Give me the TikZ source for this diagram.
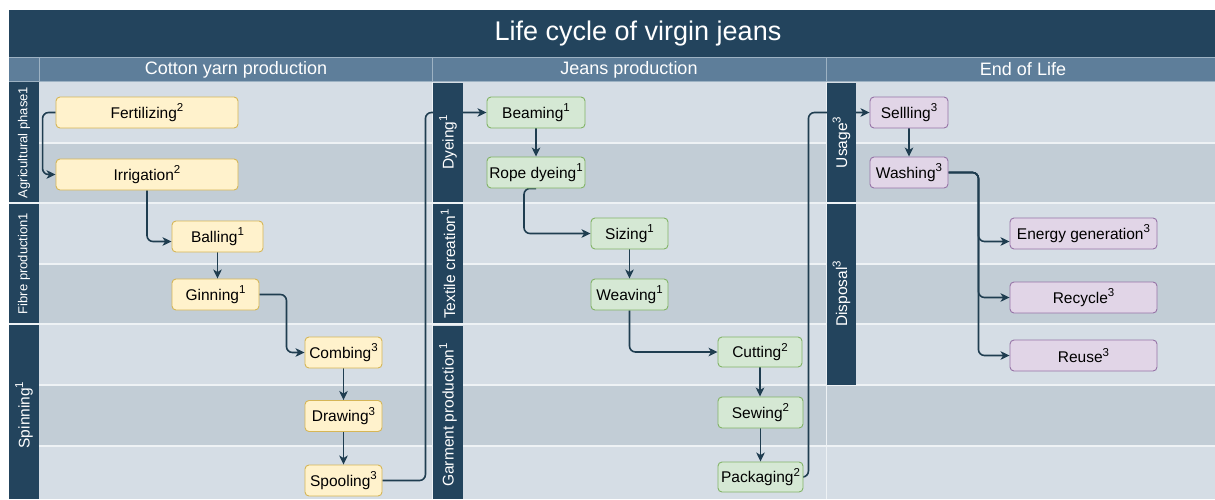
\documentclass[tikz,border=0pt]{standalone}
\usepackage{fontspec}
\setmainfont{Liberation Sans}
\usetikzlibrary{arrows.meta,calc}
\pgfdeclarelayer{bg}
\pgfdeclarelayer{conn}
\pgfsetlayers{bg,conn,main}
\definecolor{navy}{HTML}{23445D}
\definecolor{hdr}{HTML}{5E7E9A}
\definecolor{hdrline}{HTML}{9DB2C3}
\definecolor{rowA}{HTML}{D5DDE5}
\definecolor{rowB}{HTML}{C2CDD6}
\definecolor{sepcol}{HTML}{EEF2F5}
\definecolor{yfill}{HTML}{FFF2CC}
\definecolor{ydraw}{HTML}{D6B656}
\definecolor{gfill}{HTML}{D5E8D4}
\definecolor{gdraw}{HTML}{82B366}
\definecolor{pfill}{HTML}{E1D5E7}
\definecolor{pdraw}{HTML}{9673A6}
\definecolor{conncol}{HTML}{1F3D50}
\newcommand{\mysup}[1]{\raisebox{0.42em}{\fontsize{11.5}{12}\selectfont #1}}
\begin{document}
\begin{tikzpicture}[x=1pt,y=-1pt,
  proc/.style={draw, rounded corners=4pt, line width=0.9pt, inner sep=0pt,
    minimum height=31pt, align=center, text=black,
    font=\fontsize{15.5}{18}\selectfont},
  yproc/.style={proc, fill=yfill, draw=ydraw},
  gproc/.style={proc, fill=gfill, draw=gdraw},
  pproc/.style={proc, fill=pfill, draw=pdraw},
  lanetext/.style={rotate=90, text=white, inner sep=0pt,
    font=\fontsize{15.5}{18}\selectfont},
  lanesmall/.style={lanetext, font=\fontsize{13}{15}\selectfont},
  lanebox/.style={fill=navy},
  hdrtext/.style={text=white, inner sep=0pt, font=\fontsize{18}{21}\selectfont},
  rowsep/.style={draw=sepcol, line width=1.6pt},
  flow/.style={draw=conncol, line width=1.6pt, rounded corners=6pt,
    -{Stealth[length=9pt,width=8.5pt,inset=2.5pt]}},
]
\useasboundingbox (0,0) rectangle (1215,499);

\begin{pgfonlayer}{bg}
  \fill[white] (0,0) rectangle (1215,499);
  % title bar and header row
  \fill[navy] (9,10) rectangle (1215,57);
  \fill[hdr] (9,57) rectangle (1215,82);
  \draw[hdrline, line width=1.2pt] (9,57.6) -- (1215,57.6);
  \draw[hdrline, line width=1pt] (9,81.5) -- (1215,81.5);
  \draw[hdrline, line width=1pt] (39.5,57) -- (39.5,82);
  \draw[hdrline, line width=1pt] (432.5,57) -- (432.5,82);
  \draw[hdrline, line width=1pt] (826.5,57) -- (826.5,82);
  % row bands
  \fill[rowA] (9,82) rectangle (1215,143);
  \fill[rowB] (9,143) rectangle (1215,203);
  \fill[rowA] (9,203) rectangle (1215,264);
  \fill[rowB] (9,264) rectangle (1215,324);
  \fill[rowA] (9,324) rectangle (1215,385);
  \fill[rowB] (9,385) rectangle (1215,446);
  \fill[rowA] (9,446) rectangle (1215,499);
  \foreach \yy in {143,203,264,324,385,446}
    \draw[rowsep] (9,\yy) -- (1215,\yy);
  \draw[sepcol, line width=1.2pt] (432.5,82) -- (432.5,499);
  \draw[sepcol, line width=1.2pt] (826.5,82) -- (826.5,499);
\end{pgfonlayer}

% titles
\node[text=white, inner sep=0pt, font=\fontsize{27}{31}\selectfont] (title) at (638,33.5) {Life cycle of virgin jeans};
\node[hdrtext] (hCot) at (236,69.5) {Cotton yarn production};
\node[hdrtext] (hJea) at (629,69.5) {Jeans production};
\node[hdrtext] (hEol) at (1023,69.5) {End of Life};

% lane labels
\fill[lanebox] (9,82) rectangle (39,202.3);
\fill[lanebox] (9,204) rectangle (39,323.3);
\fill[lanebox] (9,325) rectangle (39,499);
\fill[lanebox] (433,83) rectangle (463,202.3);
\fill[lanebox] (433,204) rectangle (463,323.3);
\fill[lanebox] (433,325.5) rectangle (463,499);
\fill[lanebox] (827,83) rectangle (856,202.3);
\fill[lanebox] (827,204) rectangle (856,385);
\node[lanesmall] (lAgr) at (24,142.5) {Agricultural phase1};
\node[lanesmall] (lFib) at (24,263.5) {Fibre production1};
\node[lanetext] (lSpi) at (24,415) {Spinning\mysup{1}};
\node[lanetext] (lDye) at (448,142.5) {Dyeing\mysup{1}};
\node[lanetext] (lTex) at (448,264) {Textile creation\mysup{1}};
\node[lanetext] (lGar) at (448,415) {Garment production\mysup{1}};
\node[lanetext] (lUsa) at (841.5,142.5) {Usage\mysup{3}};
\node[lanetext] (lDis) at (841.5,294) {Disposal\mysup{3}};

% cotton yarn nodes
\node[yproc, minimum width=182pt] (fert) at (147,112.5) {Fertilizing\mysup{2}};
\node[yproc, minimum width=182pt] (irr) at (147,174.5) {Irrigation\mysup{2}};
\node[yproc, minimum width=91pt] (ball) at (217.5,236.5) {Balling\mysup{1}};
\node[yproc, minimum width=87pt] (gin) at (215.5,294.5) {Ginning\mysup{1}};
\node[yproc, minimum width=77pt] (comb) at (343.5,352.5) {Combing\mysup{3}};
\node[yproc, minimum width=77pt] (drw) at (343.5,416) {Drawing\mysup{3}};
\node[yproc, minimum width=77pt] (spool) at (343.5,480.5) {Spooling\mysup{3}};

% jeans nodes
\node[gproc, minimum width=98pt] (beam) at (536,112.5) {Beaming\mysup{1}};
\node[gproc, minimum width=98pt] (rope) at (536,172.5) {Rope dyeing\mysup{1}};
\node[gproc, minimum width=77pt] (siz) at (629.5,233.5) {Sizing\mysup{1}};
\node[gproc, minimum width=77pt] (weav) at (629.5,294.5) {Weaving\mysup{1}};
\node[gproc, minimum width=84pt, minimum height=30pt] (cut) at (760,352) {Cutting\mysup{2}};
\node[gproc, minimum width=85pt] (sew) at (760.5,412.5) {Sewing\mysup{2}};
\node[gproc, minimum width=85pt, minimum height=30pt] (pack) at (760.5,477) {Packaging\mysup{2}};

% end of life nodes
\node[pproc, minimum width=78pt] (sell) at (909,112.5) {Sellling\mysup{3}};
\node[pproc, minimum width=78pt] (wash) at (909,172.5) {Washing\mysup{3}};
\node[pproc, minimum width=147pt] (ener) at (1083.5,233.5) {Energy generation\mysup{3}};
\node[pproc, minimum width=147pt] (recy) at (1083.5,297.5) {Recycle\mysup{3}};
\node[pproc, minimum width=147pt] (reus) at (1083.5,355.5) {Reuse\mysup{3}};

% connectors
\begin{pgfonlayer}{conn}
  \draw[flow] (fert.west) -- ++(-13,0) |- (irr.west);
  \draw[flow] (irr.south) |- ([yshift=-5pt]ball.west);
  \draw[flow] (ball.south) -- (ball.south |- gin.north);
  \draw[flow] (gin.east) -- ++(27,0) |- (comb.west);
  \draw[flow] (comb.south) -- (drw.north);
  \draw[flow] (drw.south) -- (spool.north);
  \draw[flow] (spool.east) -- ++(43,0) |- (beam.west);
  \draw[flow] (beam.south) -- (rope.north);
  \draw[flow] (rope.south) -- ++(-12,0) |- (siz.west);
  \draw[flow] (siz.south) -- (weav.north);
  \draw[flow] (weav.south) |- (cut.west);
  \draw[flow] (cut.south) -- (cut.south |- sew.north);
  \draw[flow] (sew.south) -- (pack.north);
  \draw[flow] (pack.east) -- ++(5,0) |- (sell.west);
  \draw[flow] (sell.south) -- (wash.north);
  \draw[flow] (wash.east) -- ++(30,0) |- ([yshift=-8pt]ener.west);
  \draw[flow] (wash.east) -- ++(30,0) |- (recy.west);
  \draw[flow] (wash.east) -- ++(30,0) |- (reus.west);
\end{pgfonlayer}
\end{tikzpicture}
\end{document}
